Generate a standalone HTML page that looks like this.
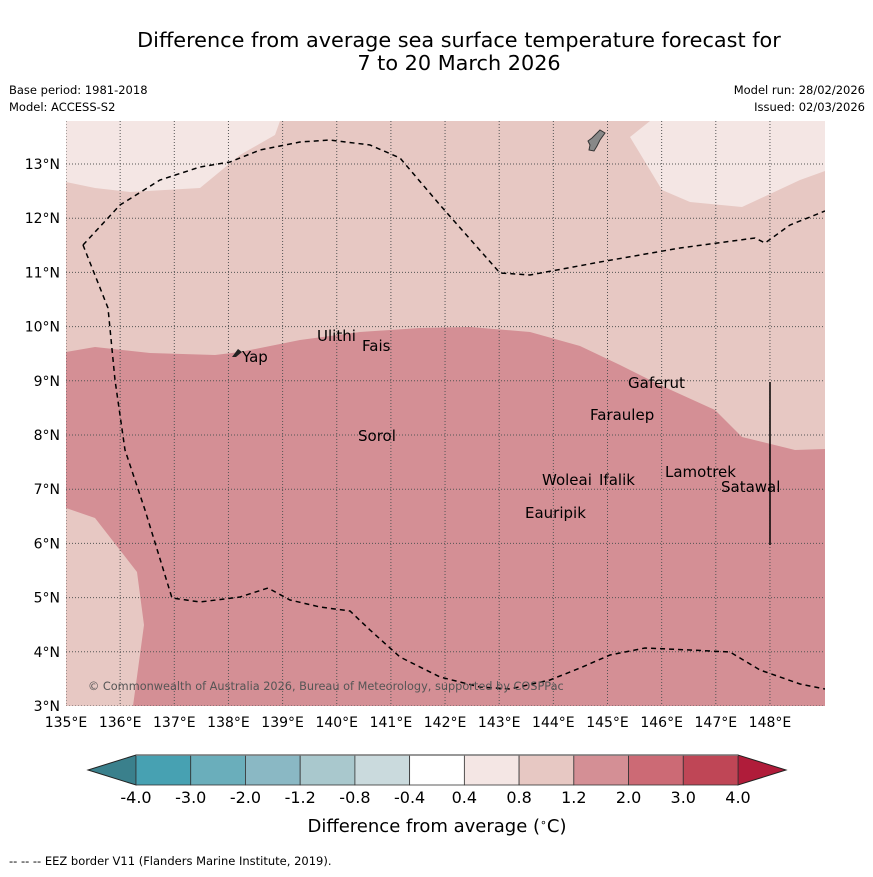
<!DOCTYPE html>
<html><head><meta charset="utf-8"><style>
body{margin:0;background:#fff;width:873px;height:873px;overflow:hidden;font-family:"DejaVu Sans","Liberation Sans",sans-serif}
svg text{font-family:"DejaVu Sans","Liberation Sans",sans-serif}
</style></head><body>
<svg width="873" height="873" viewBox="0 0 873 873">
<text x="459" y="47" font-size="20.8" text-anchor="middle">Difference from average sea surface temperature forecast for</text>
<text x="459" y="70" font-size="20.8" text-anchor="middle">7 to 20 March 2026</text>
<text x="9" y="94" font-size="11.5">Base period: 1981-2018</text>
<text x="9" y="111" font-size="11.5">Model: ACCESS-S2</text>
<text x="865" y="94" font-size="11.5" text-anchor="end">Model run: 28/02/2026</text>
<text x="865" y="111" font-size="11.5" text-anchor="end">Issued: 02/03/2026</text>
<defs><clipPath id="mc"><rect x="66" y="121" width="759" height="585"/></clipPath></defs>
<g clip-path="url(#mc)">
<rect x="66" y="121" width="759" height="585" fill="#e7c8c3"/>
<path d="M66,121 L280,121 275,135 240,155 200,188 130,192 95,188 66,182Z" fill="#f4e6e4"/>
<path d="M650,121 L630,137 662,190 690,202 742,207 800,180 825,171 825,121Z" fill="#f4e6e4"/>
<path d="M66,352 L95,347 150,353 215,355 240,352 300,340 360,332 420,328 470,327 530,332 580,346 620,365 660,385 715,410 742,437 795,450 825,449 825,706 133,706 144,625 137,572 95,518 66,508Z" fill="#d48f95"/>
<path d="M588,141 L592,138 600,130 605,133 600,140 597,146 594,151 589,150 590,145Z" fill="#888" stroke="#333" stroke-width="1"/>
<path d="M232,357 L238,349 242,352 236,357Z" fill="#222"/>
<g id="grid" stroke="#555" stroke-width="1" stroke-dasharray="1,2" fill="none"></g>
<path d="M83,245 L120,205 160,180 200,167 230,162 260,150 300,142 330,140 370,145 400,158 440,205 500,273 530,275 600,262 680,248 755,238 765,243 790,225 825,211" fill="none" stroke="#000" stroke-width="1.5" stroke-dasharray="5,4"/>
<path d="M83,245 L108,308 115,380 125,450 145,510 172,598 200,602 240,597 268,588 290,600 320,607 350,611 370,630 400,657 440,677 480,687 510,689 550,680 580,668 610,655 645,648 690,650 730,652 760,670 800,684 825,689" fill="none" stroke="#000" stroke-width="1.5" stroke-dasharray="5,4"/>
<line x1="770" y1="382" x2="770" y2="545" stroke="#000" stroke-width="1.5"/>
<text x="88" y="690" font-size="11.3" fill="#555">© Commonwealth of Australia 2026, Bureau of Meteorology, supported by COSPPac</text>
<g font-size="15" fill="#000">
<text x="242" y="362">Yap</text><text x="317" y="341">Ulithi</text><text x="362" y="351">Fais</text>
<text x="628" y="388">Gaferut</text><text x="590" y="420">Faraulep</text><text x="358" y="441">Sorol</text>
<text x="542" y="485">Woleai</text><text x="599" y="485">Ifalik</text><text x="665" y="477">Lamotrek</text>
<text x="721" y="492">Satawal</text><text x="525" y="518">Eauripik</text>
</g>
</g>
<g id="ticks" font-size="14"></g>
<g id="cbar"></g>
<text x="437" y="832" font-size="18" text-anchor="middle">Difference from average (<tspan baseline-shift="super" font-size="11">∘</tspan>C)</text>
<text x="9" y="865" font-size="11.5">--  --  -- EEZ border V11 (Flanders Marine Institute, 2019).</text>
</svg>
<script>
const lons=[135,136,137,138,139,140,141,142,143,144,145,146,147,148];
const lats=[3,4,5,6,7,8,9,10,11,12,13];
const cbLabels=["-4.0","-3.0","-2.0","-1.2","-0.8","-0.4","0.4","0.8","1.2","2.0","3.0","4.0"];
const cbColors=["#47a1b2","#6aaebb","#8ab8c4","#a9c8cd","#cadadd","#ffffff","#f4e6e4","#e7c8c3","#d48f95","#cc6a75","#bf4656"];
const NS="http://www.w3.org/2000/svg";
const xOf=l=>66+(l-135)*54.15, yOf=l=>706-(l-3)*54.2;
const grid=document.getElementById('grid'), ticks=document.getElementById('ticks');
function mk(tag,at,parent){const e=document.createElementNS(NS,tag);for(const k in at)e.setAttribute(k,at[k]);parent.appendChild(e);return e;}
lons.forEach(l=>{
 const g=mk('line',{x1:xOf(l),x2:xOf(l),y1:121,y2:706},grid);
 
 
 const t=mk('text',{x:xOf(l),y:727,'text-anchor':'middle'},ticks);t.textContent=l+"°E";
 
 
});
lats.forEach(l=>{
 const g=mk('line',{x1:66,x2:825,y1:yOf(l),y2:yOf(l)},grid);
 
 
 const t=mk('text',{x:60,y:yOf(l)+5,'text-anchor':'end'},ticks);t.textContent=l+"°N";
 
 
});
const cb=document.getElementById('cbar');
const x0=136,w=(738-136)/cbColors.length,y0=755,h=30;
const lt=mk('polygon',{points:`${x0},${y0} ${x0},${y0+h} 88,${y0+h/2}`,fill:"#3a808c",stroke:"#222","stroke-width":1},cb);


const rt=mk('polygon',{points:`738,${y0} 738,${y0+h} 786,${y0+h/2}`,fill:"#b01c3a",stroke:"#222","stroke-width":1},cb);


cbColors.forEach((c,i)=>{
 const r=mk('rect',{x:x0+i*w,y:y0,width:w,height:h,fill:c,stroke:"#333","stroke-width":0.8},cb);
 
 
});
mk('line',{x1:x0,x2:738,y1:y0,y2:y0,stroke:"#777","stroke-width":1.5},cb);
cbLabels.forEach((s,i)=>{
 const t=mk('text',{x:x0+i*w,y:803,'text-anchor':'middle','font-size':16},cb);t.textContent=s;
 
 
});
</script>
</body></html>
